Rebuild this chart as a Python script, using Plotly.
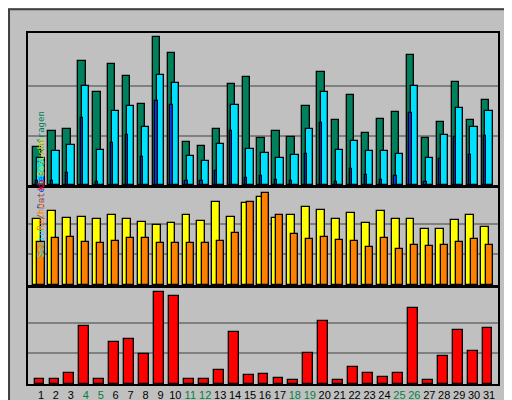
import plotly.graph_objects as go

days = list(range(1, 32))
weekend = [4, 5, 11, 12, 18, 19, 25, 26]
anfragen = [385,547,567,1245,931,1215,1093,810,1488,1326,435,395,567,1012,1083,476,547,486,790,1137,658,901,526,668,729,1306,476,638,1032,658,850]
seiten = [273,344,405,992,354,749,790,587,1103,1022,294,243,415,800,364,324,273,304,567,931,354,445,344,344,314,992,273,506,779,587,749]
dateien = [40,40,121,678,30,425,506,283,840,800,40,40,142,547,71,91,51,40,314,628,30,162,101,51,91,719,30,263,486,304,496]
besuche = [164,184,167,169,164,174,164,157,149,154,174,159,207,169,204,220,167,174,194,187,164,179,154,184,164,164,139,139,162,174,144]
rechner = [107,117,120,107,105,110,117,117,105,105,105,105,110,129,208,230,174,127,115,120,112,110,95,117,90,100,97,100,107,115,100]
kb = [4108,4108,9040,46840,4108,34510,36977,24650,74768,71488,4108,4108,11504,41907,7395,8217,4930,3287,25473,50945,3287,13969,9040,5752,9040,61628,3287,23008,43550,27116,45194]
max_hits, max_visits, max_kb = 1488, 230, 74768

C_HITS, C_PAGES, C_FILES = "#00805C", "#00E0FF", "#0040FF"
C_VIS, C_SITES, C_KB = "#FFFF00", "#FF8000", "#FF0000"
BG = "#C0C0C0"
line = dict(color="black", width=1.3)

fig = go.Figure()
def bars(y, color, off, w, xa, ya):
    fig.add_trace(go.Bar(x=[d + off for d in days], y=y, width=w, marker=dict(color=color, line=line),
                         xaxis=xa, yaxis=ya, showlegend=False, hoverinfo="skip"))

bars(anfragen, C_HITS, -0.26, 0.49, "x", "y")
bars(seiten, C_PAGES, 0.0, 0.49, "x", "y")
bars(dateien, C_FILES, -0.26, 0.15, "x", "y")
bars(besuche, C_VIS, -0.26, 0.53, "x2", "y2")
bars(rechner, C_SITES, 0.0, 0.47, "x2", "y2")
bars(kb, C_KB, -0.1, 0.66, "x3", "y3")

xd = [0.039, 0.957]
xr = [0.13, 31.6]
ticktext = [f"<span style='color:#008040'>{d}</span>" if d in weekend else str(d) for d in days]
common_x = dict(domain=xd, range=xr, showline=True, mirror=True, linecolor="black", linewidth=2,
                showgrid=False, zeroline=False, ticks="", automargin=False)
common_y = dict(showline=True, mirror=True, linecolor="black", linewidth=2, showticklabels=False,
                gridcolor="#808080", gridwidth=1.5, zeroline=False, ticks="", automargin=False)

fig.update_layout(
    width=512, height=400, margin=dict(l=0, r=0, t=0, b=0, pad=0, autoexpand=False),
    paper_bgcolor=BG, plot_bgcolor=BG, barmode="overlay", bargap=0,
    font=dict(family="Liberation Sans", size=12, color="black"),
    xaxis=dict(**common_x, anchor="y", showticklabels=False),
    xaxis2=dict(**common_x, anchor="y2", showticklabels=False),
    xaxis3=dict(**common_x, anchor="y3", tickvals=days, ticktext=ticktext, tickangle=0,
                tickfont=dict(size=11)),
    yaxis=dict(**common_y, domain=[0.5575, 0.9375], range=[0, max_hits * 152 / 148],
               tickvals=[max_hits / 3, max_hits * 2 / 3]),
    yaxis2=dict(**common_y, domain=[0.3075, 0.55], range=[0, max_visits * 97 / 92],
                tickvals=[max_visits / 3, max_visits * 2 / 3]),
    yaxis3=dict(**common_y, domain=[0.06, 0.30], range=[0, max_kb * 96 / 92],
                tickvals=[max_kb / 3, max_kb * 2 / 3]),
)

def py(p):
    return 1 - p / 400

ann = []
ann.append(dict(text="<b>Tages-Statistik im Monat Oktober 2025</b>", x=5 / 512, y=py(14),
                xanchor="left", yanchor="middle", showarrow=False,
                font=dict(family="DejaVu Sans Mono", size=12, color="#0000FF")))
for lab, yc in [(str(max_hits), 44), (str(max_visits), 193), (str(max_kb), 302)]:
    ann.append(dict(text=lab, textangle=-90, x=15 / 512, y=py(yc), xanchor="center", yanchor="middle",
                    showarrow=False, font=dict(size=12)))
mono = dict(family="DejaVu Sans Mono", size=9)
ann.append(dict(text=f"<span style='color:{C_PAGES}'>Seiten</span> / <span style='color:{C_FILES}'>Dateien</span> / <span style='color:{C_HITS}'>Anfragen</span>",
                textangle=-90, x=499 / 512, y=py(101), xanchor="center", yanchor="middle",
                showarrow=False, font=dict(**mono, color="#404040")))
ann.append(dict(text=f"<span style='color:{C_SITES}'>Rechner</span> / <span style='color:#E0E000'>Besuche</span>",
                textangle=-90, x=499 / 512, y=py(238), xanchor="center", yanchor="middle",
                showarrow=False, font=dict(**mono, color="#404040")))
ann.append(dict(text="kb", textangle=-90, x=499 / 512, y=py(369), xanchor="center", yanchor="middle",
                showarrow=False, font=dict(**mono, color=C_KB)))
fig.update_layout(annotations=ann)
fig.add_shape(type="rect", xref="paper", yref="paper", x0=0.002, y0=0.003, x1=0.998, y1=0.997,
              line=dict(color="#404040", width=2))
fig.write_html("out.html")
